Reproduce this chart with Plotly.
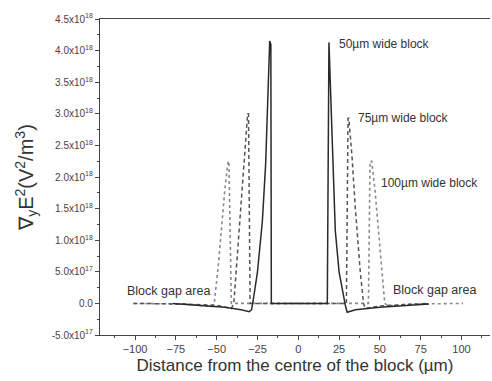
import plotly.graph_objects as go

# Distance from the centre of the block (um) and field gradient (V^2/m^3)
x_50 = [-77, -60, -45, -35, -30, -28.6, -28, -27.6, -25, -22, -20, -18.5, -17.5, -16.8, -16.5,
        17.5, 17.8, 18.8, 20, 22.7, 25, 28, 29, 30, 35, 50, 65, 80]
y_50 = [0.0, -0.03, -0.06, -0.1, -0.13, -0.1, -0.02, 0.05, 0.5, 1.3, 2.2, 3.3, 4.15, 4.1, 0.0,
        0.0, 0.0, 4.13, 3.2, 1.15, 0.5, 0.05, -0.05, -0.14, -0.1, -0.06, -0.03, -0.01]

x_75 = [-101, -70, -50, -41, -39.5, -38, -35, -33, -31, -30.5, -29.5,
        29.5, 30.5, 31, 33, 35, 38, 40, 41, 50, 80]
y_75 = [0.0, -0.01, -0.03, -0.08, 0.0, 0.5, 1.5, 2.3, 3.0, 3.0, 0.0,
        0.0, 2.93, 2.93, 2.3, 1.5, 0.5, 0.0, -0.08, -0.04, 0.0]

x_100 = [-101, -70, -53, -51.5, -49, -47, -45, -43, -42.5, -41,
         43, 44, 45, 47, 49, 51, 53, 55, 70, 101]
y_100 = [0.0, -0.01, -0.05, 0.0, 0.6, 1.2, 1.8, 2.25, 2.25, 0.0,
         0.0, 2.25, 2.25, 1.8, 1.2, 0.6, 0.0, -0.04, -0.01, 0.0]

scale = 1e18
y_ticks = [-0.5, 0.0, 0.5, 1.0, 1.5, 2.0, 2.5, 3.0, 3.5, 4.0, 4.5]
y_tick_text = ["-5.0x10<sup>17</sup>", "0.0", "5.0x10<sup>17</sup>", "1.0x10<sup>18</sup>",
               "1.5x10<sup>18</sup>", "2.0x10<sup>18</sup>", "2.5x10<sup>18</sup>",
               "3.0x10<sup>18</sup>", "3.5x10<sup>18</sup>", "4.0x10<sup>18</sup>",
               "4.5x10<sup>18</sup>"]
x_ticks = [-100, -75, -50, -25, 0, 25, 50, 75, 100]

fig = go.Figure()
fig.add_trace(go.Scatter(x=x_100, y=[v * scale for v in y_100], mode="lines",
                         line=dict(color="#8a8a8a", width=1.6, dash="dot"),
                         name="100um"))
fig.add_trace(go.Scatter(x=x_75, y=[v * scale for v in y_75], mode="lines",
                         line=dict(color="#555555", width=1.5, dash="4px,3px"),
                         name="75um"))
fig.add_trace(go.Scatter(x=x_50, y=[v * scale for v in y_50], mode="lines",
                         line=dict(color="#2a2a2a", width=1.5),
                         name="50um"))

font_main = "Liberation Sans, Arial, sans-serif"
ann = [
    dict(x=24, y=4.1e18, text="50\u00b5m wide block", size=12),
    dict(x=35.5, y=2.93e18, text="75\u00b5m wide block", size=12),
    dict(x=49.5, y=1.9e18, text="100\u00b5m wide block", size=12),
    dict(x=-106, y=0.19e18, text="Block gap area", size=12.5),
    dict(x=57, y=0.21e18, text="Block gap area", size=12.5),
]
for a in ann:
    fig.add_annotation(x=a["x"], y=a["y"], text=a["text"], xanchor="left",
                       yanchor="middle", showarrow=False,
                       font=dict(family=font_main, size=a["size"], color="#333333"))

fig.update_layout(
    width=492, height=381,
    margin=dict(l=100, r=2, t=19, b=46),
    paper_bgcolor="white", plot_bgcolor="white",
    showlegend=False,
    font=dict(family=font_main, color="#333333"),
)
fig.update_xaxes(
    range=[-121.5, 117.5], tickvals=x_ticks, ticks="outside", ticklen=4,
    tickcolor="#444444", showline=True, linecolor="#444444", linewidth=1.2,
    mirror=True, showgrid=False, zeroline=False, automargin=False,
    tickfont=dict(size=11, color="#444444"),
    minor=dict(dtick=12.5, tick0=0, ticks="outside", ticklen=2, tickcolor="#444444"),
    title=dict(text="Distance from the centre of the block (\u00b5m)",
               font=dict(size=17, color="#333333"), standoff=4),
)
fig.update_yaxes(
    range=[-0.5e18, 4.5e18], tickvals=[v * scale for v in y_ticks], ticktext=y_tick_text,
    ticks="outside", ticklen=4, tickcolor="#444444", showline=True,
    linecolor="#444444", linewidth=1.2, showgrid=False, zeroline=False,
    automargin=False,
    tickfont=dict(size=10, color="#444444"),
    minor=dict(dtick=0.25e18, tick0=0, ticks="outside", ticklen=2, tickcolor="#444444"),
    title=dict(text="\u2207<sub>y</sub>E<sup>2</sup>(V<sup>2</sup>/m<sup>3</sup>)",
               font=dict(size=20, color="#333333"), standoff=12),
)

fig.write_html(
    "out.html",
    config={"displayModeBar": False},
    post_script="document.body.style.margin='0';document.body.style.overflow='hidden';",
)
